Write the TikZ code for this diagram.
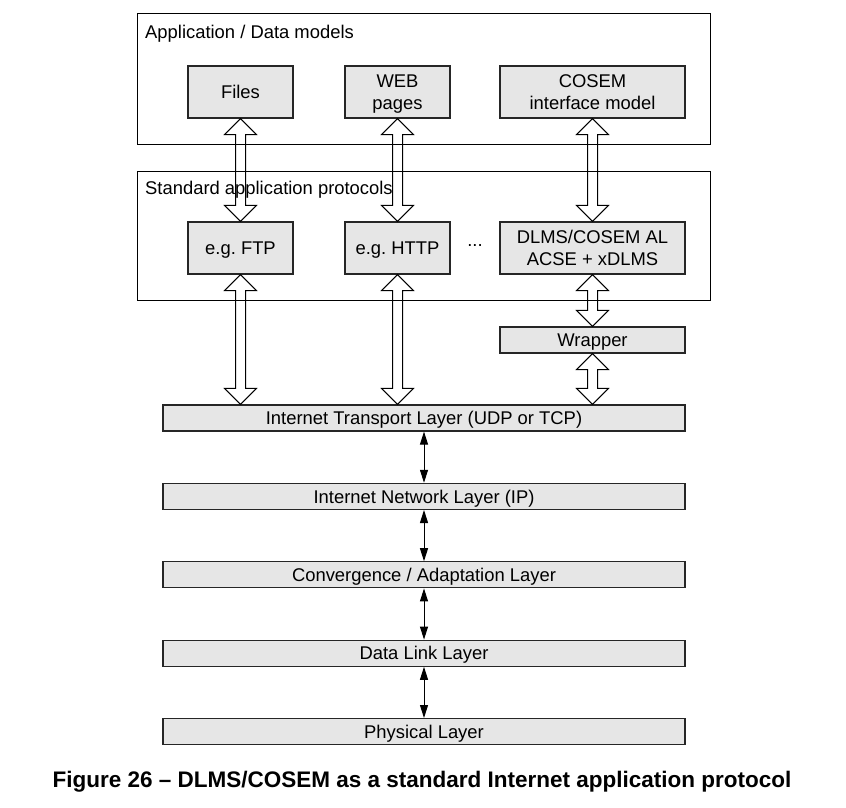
\documentclass[tikz,border=0pt]{standalone}
\usepackage{fontspec}
\setmainfont{Liberation Sans}
\usepackage{tikz}
\usetikzlibrary{positioning, calc}
\usetikzlibrary{arrows.meta}

\definecolor{boxgray}{RGB}{230,230,230}

% hollow two-headed block arrow between two anchors (vertical)
\newcommand{\fatarrow}[2]{%
  \draw[hollow] let \p1=(#1), \p2=(#2) in
    (\x1,\y1) -- ++(-16pt,-16pt) -- ++(11pt,0pt) -- (\x1-5pt,\y2+16pt)
    -- ++(-11pt,0pt) -- (\x1,\y2) -- ++(16pt,16pt) -- ++(-11pt,0pt)
    -- (\x1+5pt,\y1-16pt) -- ++(11pt,0pt) -- cycle;}

\begin{document}
\begin{tikzpicture}[x=1pt, y=1pt, node distance=157pt,
                    every node/.style={font=\fontsize{18.4}{22}\selectfont}]
  \tikzstyle{block}=[draw=black!85, line width=1.2pt, fill=boxgray, align=center, inner sep=0pt,
                     text height=13.2pt, text depth=0pt]
  \tikzstyle{twoline}=[text height=35.2pt]
  \tikzstyle{group}=[draw, line width=1pt, inner sep=0pt]
  \tikzstyle{layer}=[block, minimum width=522pt, minimum height=26pt]
  \tikzstyle{hollow}=[draw, line width=1pt]
  \tikzstyle{thin}=[line width=1pt, {Triangle[length=13pt,width=8pt]}-{Triangle[length=13pt,width=8pt]}]

  \useasboundingbox (0,0) rectangle (846,-808);

  % the two frames
  \node[group, minimum width=573.5pt, minimum height=130pt] (appbox) at (423.75,-79) {};
  \node[group, minimum width=573.5pt, minimum height=129pt] (protobox) at (423.75,-235.5) {};
  \node[anchor=base west, inner sep=0pt] (applabel) at ($(appbox.north west)+(8.5,-25)$) {Application / Data models};
  \node[anchor=base west, inner sep=0pt] (protolabel) at ($(protobox.north west)+(8.5,-24)$) {Standard application protocols};

  % models
  \node[block, minimum width=105pt, minimum height=52pt] (files) at (240.5,-92) {Files};
  \node[block, twoline, minimum width=105pt, minimum height=52pt] (web) [right of=files] {WEB\\pages};
  \node[block, twoline, minimum width=185pt, minimum height=52pt] (cosem) [right of=web, node distance=195pt] {COSEM\\interface model};

  % protocols
  \node[block, minimum width=105pt, minimum height=52pt] (ftp) [below of=files, node distance=156pt] {e.g.\ FTP};
  \node[block, minimum width=105pt, minimum height=52pt] (http) [below of=web, node distance=156pt] {e.g.\ HTTP};
  \node[block, twoline, minimum width=185pt, minimum height=52pt] (dlms) [below of=cosem, node distance=156pt] {DLMS/COSEM AL\\ACSE + xDLMS};
  \node[anchor=base, inner sep=0pt] (dots) at ($(http.east)!0.5!(dlms.west)+(0,2)$) {...};
  \node[block, minimum width=185pt, minimum height=26pt] (wrapper) [below of=dlms, node distance=92pt] {Wrapper};

  % layers
  \node[layer] (transport) at (424,-418) {Internet Transport Layer (UDP or TCP)};
  \node[layer] (network) [below of=transport, node distance=78.4pt] {Internet Network Layer (IP)};
  \node[layer] (convergence) [below of=network, node distance=78.4pt] {Convergence / Adaptation Layer};
  \node[layer] (datalink) [below of=convergence, node distance=78.4pt] {Data Link Layer};
  \node[layer] (physical) [below of=datalink, node distance=78.4pt] {Physical Layer};

  \foreach \a/\b in {files/ftp, web/http, cosem/dlms, ftp/transport, http/transport, dlms/wrapper, wrapper/transport}
    {\fatarrow{\a.south}{\b.north}}

  \foreach \a/\b in {transport/network, network/convergence, convergence/datalink, datalink/physical}
    \draw[thin] (\a.south) -- (\b.north);

  \node[anchor=base, font=\bfseries\fontsize{22.5}{26}\selectfont] (caption) at (422,-787)
    {Figure 26 – DLMS/COSEM as a standard Internet application protocol};
\end{tikzpicture}
\end{document}
